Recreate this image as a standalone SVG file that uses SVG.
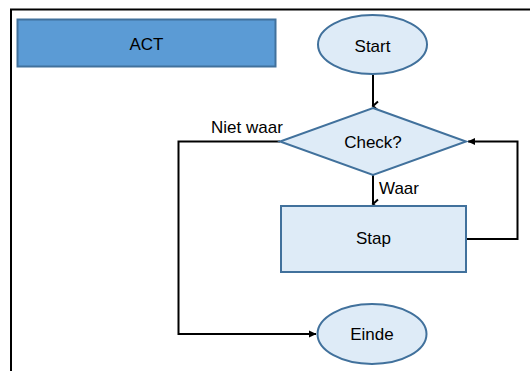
<svg xmlns="http://www.w3.org/2000/svg" width="530" height="371" viewBox="0 0 530 371">
<defs>
<style>
.t{font-family:"Liberation Sans",Arial,sans-serif;font-size:17px;fill:#000}
.n{fill:#DEEBF7;stroke:#41719C;stroke-width:2}
.c{fill:none;stroke:#000;stroke-width:2}
</style>
<marker id="v" markerWidth="12" markerHeight="12" refX="6" refY="9" orient="auto" markerUnits="userSpaceOnUse" viewBox="0 0 12 12">
<path d="M1.5,4 L6,9 L10.5,4" fill="none" stroke="#000" stroke-width="2"/>
</marker>
<marker id="f" markerWidth="10" markerHeight="10" refX="8" refY="5" orient="auto" markerUnits="userSpaceOnUse" viewBox="0 0 10 10">
<path d="M1,1.5 L8.5,5 L1,8.5 Z" fill="#000"/>
</marker>
</defs>
<rect width="530" height="371" fill="#fff"/>
<g id="frame">
<path d="M11,371 V9.5 H530" fill="none" stroke="#000" stroke-width="2"/>
</g>
<g id="act">
<rect x="17.5" y="19.5" width="258" height="47" fill="#5B9BD5" stroke="#41719C" stroke-width="2"/>
<text class="t" x="146.5" y="49.5" text-anchor="middle">ACT</text>
</g>
<g id="connectors">
<path class="c" d="M373,75 V106" marker-end="url(#v)"/>
<path class="c" d="M373,175 V204" marker-end="url(#v)"/>
<path class="c" d="M466,239 H517.5 V141.5 H468" marker-end="url(#f)"/>
<path class="c" d="M280,141.5 H178.5 V334 H316" marker-end="url(#f)"/>
<text class="t" x="211" y="133">Niet waar</text>
<text class="t" x="379" y="194">Waar</text>
</g>
<g id="start">
<ellipse class="n" cx="372.5" cy="44.5" rx="54.5" ry="29.5"/>
<text class="t" x="372.5" y="52" text-anchor="middle">Start</text>
</g>
<g id="check">
<polygon class="n" points="373,108 466,141.5 373,175 280,141.5"/>
<text class="t" x="373" y="147.5" text-anchor="middle">Check?</text>
</g>
<g id="stap">
<rect class="n" x="281" y="206" width="185" height="66"/>
<text class="t" x="373.5" y="244" text-anchor="middle">Stap</text>
</g>
<g id="einde">
<ellipse class="n" cx="372" cy="334" rx="54.5" ry="30"/>
<text class="t" x="372" y="340" text-anchor="middle">Einde</text>
</g>
</svg>
